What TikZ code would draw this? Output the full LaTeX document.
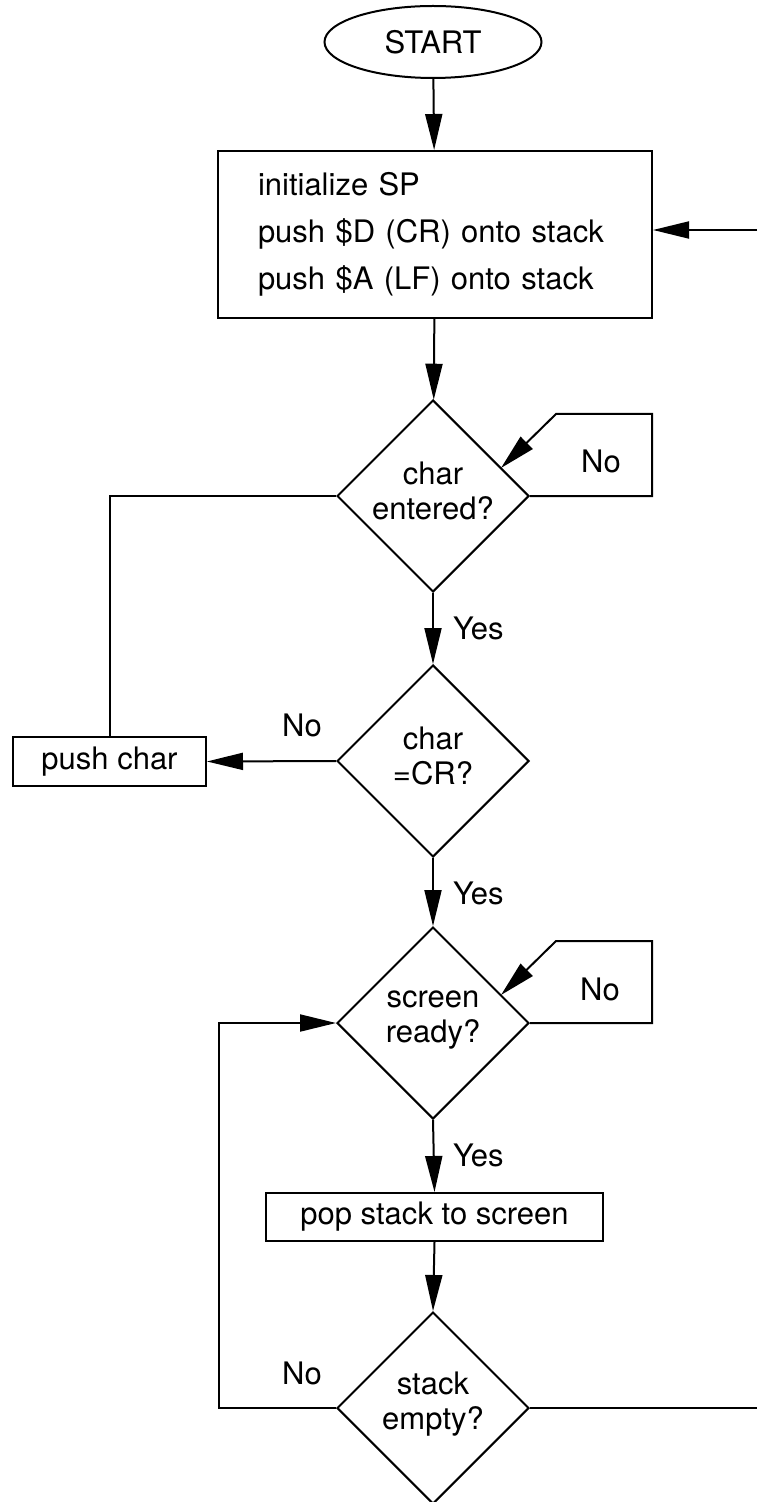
\documentclass[tikz,border=0pt]{standalone}
\usepackage{fontspec}
\setmainfont{TeX Gyre Heros}
\usetikzlibrary{shapes.geometric,arrows.meta,calc}
\begin{document}
\begin{tikzpicture}[x=0.5pt,y=-0.5pt,
  line width=1pt,
  every node/.style={font=\fontsize{15.5}{17.5}\selectfont},
  arr/.style={-{Triangle[length=18pt,width=8.5pt]}},
  dia/.style={draw,shape=diamond,minimum width=96pt,minimum height=96pt,inner sep=0pt},
  boxn/.style={draw,rectangle,inner sep=0pt},
  lbl/.style={inner sep=0pt},
  dtext/.style={inner sep=0pt,align=center}
]
\useasboundingbox (0,0) rectangle (757,1502);
% nodes
\node[draw,ellipse,minimum width=108.5pt,minimum height=36pt,inner sep=0pt] (start) at (433,42) {START};
\node[boxn,minimum width=217pt,minimum height=83.5pt,text width=177pt,align=left,
      font=\fontsize{15.5}{23.5}\selectfont] (init) at (435,234.5)
      {initialize SP\\push \$D (CR) onto stack\\push \$A (LF) onto stack};
\node[dia] (d1) at (433,496) {};
\node[dtext] (t1) at (433,491) {char\\entered?};
\node[dia] (d2) at (433,761) {};
\node[dtext] (t2) at (433,756) {char\\=CR?};
\node[boxn,minimum width=96.5pt,minimum height=24.5pt] (pc) at (109.5,761.5) {push char};
\node[dia] (d3) at (433,1023) {};
\node[dtext] (t3) at (433,1020) {screen\\ready?};
\node[boxn,minimum width=168.5pt,minimum height=24pt] (pop) at (434.5,1217) {pop stack to screen};
\node[dia] (d4) at (433,1408) {};
\node[dtext] (t4) at (433,1404) {stack\\empty?};
\coordinate (in) at (757,230);
\coordinate (out) at (757,1408);
% labels
\node[lbl] (n1) at (601,461) {No};
\node[lbl,anchor=west] (y1) at (452,628) {Yes};
\node[lbl] (n2) at (302,725) {No};
\node[lbl,anchor=west] (y2) at (452,893) {Yes};
\node[lbl] (n3) at (600,989) {No};
\node[lbl,anchor=west] (y3) at (452,1155) {Yes};
\node[lbl] (n4) at (302,1373) {No};
% connectors
\draw[arr] (start) -- (init);
\draw[arr] (in) -- (in -| init.east);
\draw[arr] (init) -- (d1);
\draw[arr] (d1.east) -- ++(122,0) -- ++(0,-82) -- ++(-96,0) -- ($(d1.center)+(68,-28)$);
\draw (d1.west) -| (pc.north);
\draw[arr] (d1.south) -- (d2.north);
\draw[arr] (d2.west) -- (pc.east);
\draw[arr] (d2.south) -- (d3.north);
\draw[arr] (d3.east) -- ++(122,0) -- ++(0,-82) -- ++(-96,0) -- ($(d3.center)+(68,-28)$);
\draw[arr] (d3.south) -- (pop.north);
\draw[arr] (pop.south) -- (d4.north);
\draw[arr] (d4.west) -- ++(-117,0) |- (d3.west);
\draw (d4.east) -- (out);
\end{tikzpicture}
\end{document}
